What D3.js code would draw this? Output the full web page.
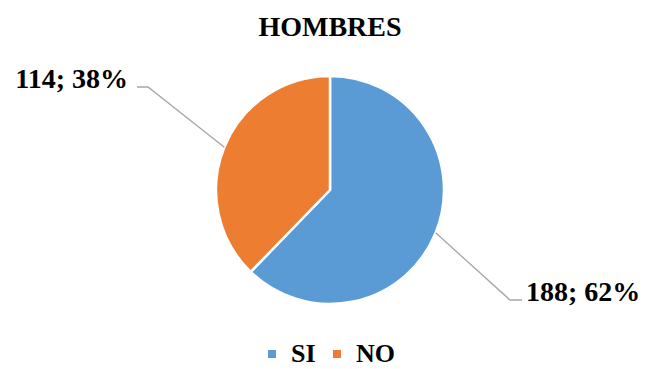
<!DOCTYPE html>
<html>
<head>
<meta charset="utf-8">
<script src="https://cdn.jsdelivr.net/npm/d3@7"></script>
<style>
  body { margin: 0; background: #fff; }
  text { font-family: "Liberation Serif", "Times New Roman", serif; font-weight: bold; fill: #000; }
</style>
</head>
<body>
<div id="chart"></div>
<script>
// data
const categories = ["SI", "NO"];
const values = [188, 114];
const percents = ["62%", "38%"];
const colors = ["#5B9BD5", "#ED7D31"];
const title = "HOMBRES";

const width = 646, height = 369;
const cx = 330, cy = 190, radius = 114;

const svg = d3.select("#chart").append("svg")
    .attr("width", width)
    .attr("height", height);

svg.append("text")
    .attr("x", 330)
    .attr("y", 36)
    .attr("text-anchor", "middle")
    .style("font-size", "28px")
    .text(title);

const pie = d3.pie().sort(null).value(d => d);
const arcs = pie(values);
const arc = d3.arc().innerRadius(0).outerRadius(radius);

const g = svg.append("g").attr("transform", "translate(" + cx + "," + cy + ")");

g.selectAll("path.slice")
    .data(arcs)
    .enter().append("path")
    .attr("class", "slice")
    .attr("d", arc)
    .attr("fill", (d, i) => colors[i])
    .attr("stroke", "#fff")
    .attr("stroke-width", 2.5)
    .attr("stroke-linejoin", "round");

// label layout: elbow point and label end (relative to centre)
const labelPos = [
    { elbow: [180, 110], end: [192, 110], anchor: "start" },
    { elbow: [-182, -103], end: [-193, -103], anchor: "end" }
];

arcs.forEach((d, i) => {
    const mid = (d.startAngle + d.endAngle) / 2;
    const p0 = [radius * Math.sin(mid), -radius * Math.cos(mid)];
    const lp = labelPos[i];
    g.append("polyline")
        .attr("points", [p0, lp.elbow, lp.end].map(p => p.join(",")).join(" "))
        .attr("fill", "none")
        .attr("stroke", "#A6A6A6")
        .attr("stroke-width", 1.3);
    g.append("text")
        .attr("x", lp.end[0] + (lp.anchor === "start" ? 4 : -9))
        .attr("y", lp.end[1] + 1)
        .attr("text-anchor", lp.anchor)
        .style("font-size", "28px")
        .text(values[i] + "; " + percents[i]);
});

// legend
const legendX = [268, 333];
const legend = svg.append("g");
categories.forEach((c, i) => {
    legend.append("rect")
        .attr("x", legendX[i])
        .attr("y", 350)
        .attr("width", 8)
        .attr("height", 8)
        .attr("fill", colors[i]);
    legend.append("text")
        .attr("x", legendX[i] + 23)
        .attr("y", 362)
        .style("font-size", "26px")
        .text(c);
});
</script>
</body>
</html>
